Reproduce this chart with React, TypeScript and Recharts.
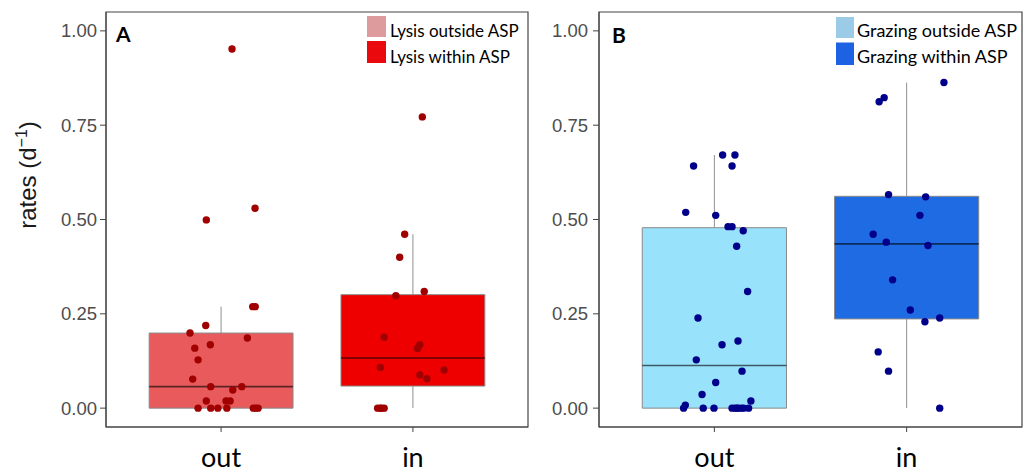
import React from 'react';
import { ComposedChart, Scatter, XAxis, YAxis, ReferenceArea, ReferenceLine } from 'recharts';

// ---------- data ----------
const categories = ['out', 'in'];
const yTicks = [0, 0.25, 0.5, 0.75, 1];

// Panel A: lysis rates
const lysisOutValues = [0.952, 0.53, 0.499, 0.269, 0.269, 0.219, 0.199, 0.186, 0.168, 0.159, 0.128, 0.077, 0.057, 0.057, 0.048, 0.019, 0.019, 0.019, 0, 0, 0, 0, 0, 0, 0];
const lysisOutJitter = [0.057, 0.177, -0.077, 0.165, 0.178, -0.08, -0.162, 0.137, -0.056, -0.137, -0.12, -0.148, -0.054, 0.108, 0.061, -0.077, 0.026, 0.047, -0.12, -0.054, -0.017, 0.03, 0.168, 0.181, 0.193];
const lysisInValues = [0.772, 0.461, 0.4, 0.309, 0.298, 0.188, 0.168, 0.158, 0.108, 0.101, 0.088, 0.078, 0, 0, 0, 0];
const lysisInJitter = [0.049, -0.043, -0.069, 0.059, -0.089, -0.15, 0.036, 0.024, -0.17, 0.162, 0.036, 0.073, -0.184, -0.17, -0.163, -0.15];

// Panel B: grazing rates
const grazingOutValues = [0.671, 0.671, 0.642, 0.642, 0.519, 0.511, 0.481, 0.481, 0.47, 0.429, 0.309, 0.239, 0.178, 0.168, 0.128, 0.098, 0.068, 0.036, 0.019, 0.008, 0, 0, 0, 0, 0, 0, 0, 0, 0, 0];
const grazingOutJitter = [0.043, 0.107, -0.108, 0.092, -0.149, 0.007, 0.071, 0.092, 0.15, 0.116, 0.173, -0.085, 0.123, 0.04, -0.094, 0.144, 0.007, -0.064, 0.19, -0.151, -0.16, -0.058, -0.002, 0.092, 0.107, 0.123, 0.14, 0.178, 0.118, 0.152];
const grazingInValues = [0.863, 0.823, 0.812, 0.566, 0.56, 0.511, 0.461, 0.44, 0.431, 0.34, 0.26, 0.239, 0.229, 0.149, 0.098, 0];
const grazingInJitter = [0.194, -0.117, -0.143, -0.094, 0.099, 0.069, -0.174, -0.106, 0.111, -0.073, 0.019, 0.172, 0.095, -0.148, -0.094, 0.172];

const lysisLegend = ['Lysis outside ASP', 'Lysis within ASP'];
const grazingLegend = ['Grazing outside ASP', 'Grazing within ASP'];

// ---------- helpers ----------
function quantile(sorted: number[], p: number) {
  const h = (sorted.length - 1) * p;
  const lo = Math.floor(h);
  const hi = Math.ceil(h);
  return sorted[lo] + (h - lo) * (sorted[hi] - sorted[lo]);
}

function boxStats(values: number[]) {
  const s = [...values].sort((a, b) => a - b);
  const q1 = quantile(s, 0.25);
  const med = quantile(s, 0.5);
  const q3 = quantile(s, 0.75);
  const iqr = q3 - q1;
  const lo = s.find((v) => v >= q1 - 1.5 * iqr) as number;
  const hi = [...s].reverse().find((v) => v <= q3 + 1.5 * iqr) as number;
  return { q1, med, q3, lo, hi };
}

const FRAME = '#444444';
const TICK_FONT = "'Liberation Sans', Arial, sans-serif";
const CAL_FONT = "Lato, 'Open Sans', sans-serif";
const X_DOMAIN: [number, number] = [0.4, 2.6];
const Y_DOMAIN: [number, number] = [-0.05, 1.05];

type Group = { values: number[]; jitter: number[]; fill: string };

function Panel(props: {
  width: number;
  yAxisWidth: number;
  marginRight: number;
  yTickMargin: number;
  groups: Group[];
  pointColor: string;
}) {
  const { width, yAxisWidth, marginRight, yTickMargin, groups, pointColor } = props;
  const points = groups.flatMap((g, gi) => g.values.map((v, i) => ({ x: gi + 1 + g.jitter[i], y: v })));
  const halfWidth = 0.375;
  return (
    <ComposedChart width={width} height={472} margin={{ top: 12, right: marginRight, bottom: 0, left: 0 }}>
      <XAxis
        dataKey="x"
        type="number"
        domain={X_DOMAIN}
        ticks={[1, 2]}
        interval={0}
        tickFormatter={(v: number) => categories[Math.round(v) - 1]}
        height={45}
        tickSize={5}
        tickMargin={16}
        stroke={FRAME}
        tick={{ fill: '#000', fontSize: 27, fontFamily: CAL_FONT }}
      />
      <YAxis
        dataKey="y"
        type="number"
        domain={Y_DOMAIN}
        ticks={yTicks}
        interval={0}
        width={yAxisWidth}
        tickSize={6}
        tickMargin={yTickMargin}
        tickFormatter={(v: number) => v.toFixed(2)}
        stroke={FRAME}
        tick={{ fill: '#4D4D4D', fontSize: 18.5, fontFamily: TICK_FONT }}
      />
      {groups.map((g, gi) => {
        const s = boxStats(g.values);
        const c = gi + 1;
        return (
          <React.Fragment key={gi}>
            <ReferenceLine segment={[{ x: c, y: s.q3 }, { x: c, y: s.hi }]} stroke="#8f8f8f" strokeWidth={1} />
            <ReferenceLine segment={[{ x: c, y: s.lo }, { x: c, y: s.q1 }]} stroke="#8f8f8f" strokeWidth={1} />
            <ReferenceArea x1={c - halfWidth} x2={c + halfWidth} y1={s.q1} y2={s.q3} fill={g.fill} fillOpacity={1} stroke="#8a8a8a" strokeWidth={1} />
            <ReferenceLine segment={[{ x: c - halfWidth, y: s.med }, { x: c + halfWidth, y: s.med }]} stroke="rgba(0,0,0,0.6)" strokeWidth={1.6} />
          </React.Fragment>
        );
      })}
      <ReferenceArea
        x1={X_DOMAIN[0]}
        x2={X_DOMAIN[1]}
        y1={Y_DOMAIN[0]}
        y2={Y_DOMAIN[1]}
        fill="none"
        fillOpacity={0}
        stroke={FRAME}
        strokeWidth={1.2}
        ifOverflow="visible"
      />
      <Scatter
        data={points}
        isAnimationActive={false}
        fill={pointColor}
        shape={(p: any) => <circle cx={p.cx} cy={p.cy} r={3.7} fill={pointColor} />}
      />
    </ComposedChart>
  );
}

export default function App() {
  return (
    <div style={{ position: 'absolute', left: 0, top: 0, width: 1025, height: 472, background: '#fff' }}>
      <div style={{ position: 'absolute', left: 0, top: 0 }}>
        <Panel
          width={540}
          yAxisWidth={106}
          marginRight={12}
          yTickMargin={3}
          pointColor="#A00000"
          groups={[
            { values: lysisOutValues, jitter: lysisOutJitter, fill: '#E85A5C' },
            { values: lysisInValues, jitter: lysisInJitter, fill: '#EE0000' },
          ]}
        />
      </div>
      <div style={{ position: 'absolute', left: 545, top: 0 }}>
        <Panel
          width={480}
          yAxisWidth={54}
          marginRight={3}
          yTickMargin={5}
          pointColor="#00008B"
          groups={[
            { values: grazingOutValues, jitter: grazingOutJitter, fill: '#98E2FC' },
            { values: grazingInValues, jitter: grazingInJitter, fill: '#1E6BE3' },
          ]}
        />
      </div>
      <svg width={1025} height={472} style={{ position: 'absolute', left: 0, top: 0, pointerEvents: 'none' }}>
        <text transform="translate(36,175) rotate(-90)" textAnchor="middle" fontFamily={TICK_FONT} fontSize={24} fill="#1a1a1a">
          rates (d<tspan dy={-9} fontSize={16}>−1</tspan><tspan dy={9}>)</tspan>
        </text>
        <text x={116} y={42} fontFamily={CAL_FONT} fontWeight="bold" fontSize={21} fill="#000">A</text>
        <text x={612} y={43} fontFamily={CAL_FONT} fontWeight="bold" fontSize={21} fill="#000">B</text>
        <rect x={367} y={16} width={19} height={21} fill="#DE9B9D" />
        <rect x={367} y={41} width={19} height={22} fill="#EA0A0E" />
        <text x={390} y={36.5} fontFamily={CAL_FONT} fontSize={17} fill="#000">{lysisLegend[0]}</text>
        <text x={390} y={62.5} fontFamily={CAL_FONT} fontSize={17} fill="#000">{lysisLegend[1]}</text>
        <rect x={836} y={17} width={18} height={21} fill="#9BCBE6" />
        <rect x={836} y={42.5} width={18} height={22.5} fill="#1C62E2" />
        <text x={857} y={37} fontFamily={CAL_FONT} fontSize={18} fill="#000">{grazingLegend[0]}</text>
        <text x={857} y={63} fontFamily={CAL_FONT} fontSize={18} fill="#000">{grazingLegend[1]}</text>
      </svg>
    </div>
  );
}
